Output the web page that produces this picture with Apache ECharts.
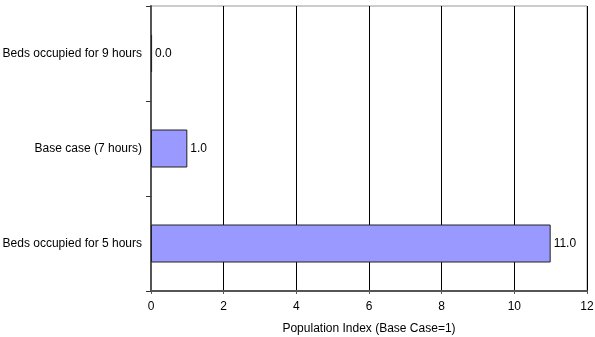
<!DOCTYPE html>
<html>
<head>
<meta charset="utf-8">
<script src="https://cdn.jsdelivr.net/npm/echarts@6/dist/echarts.min.js"></script>
<style>html,body{margin:0;padding:0;background:#fff;}#c{width:595px;height:337px;}</style>
</head>
<body>
<div id="c"></div>
<script>
var categories = ['Beds occupied for 5 hours', 'Base case (7 hours)', 'Beds occupied for 9 hours'];
var values = [11.0, 1.0, 0.03];
var xTicks = [0, 2, 4, 6, 8, 10, 12];
var xTitle = 'Population Index (Base Case=1)';

var chart = echarts.init(document.getElementById('c'), null, {renderer: 'canvas'});
var font = 'Liberation Sans, Arial, sans-serif';
chart.setOption({
  animation: false,
  grid: {left: 151, right: 8, top: 6, bottom: 46, outerBoundsMode: 'none', containLabel: false,
    show: true, borderColor: '#999', borderWidth: 1, backgroundColor: 'transparent'},
  xAxis: {
    type: 'value', min: xTicks[0], max: xTicks[xTicks.length - 1], interval: 2,
    name: xTitle, nameLocation: 'middle', nameGap: 32,
    nameTextStyle: {fontFamily: font, fontSize: 12, color: '#000'},
    axisLine: {show: true, lineStyle: {color: '#555', width: 2}},
    axisTick: {show: true, length: 3, lineStyle: {color: '#555', width: 1}},
    axisLabel: {fontFamily: font, fontSize: 12, color: '#000', margin: 10},
    splitLine: {show: true, lineStyle: {color: '#000', width: 1}}
  },
  yAxis: {
    type: 'category', data: categories,
    axisLine: {show: true, lineStyle: {color: '#555', width: 2}},
    axisTick: {show: true, length: 5, lineStyle: {color: '#333', width: 1}},
    axisLabel: {fontFamily: font, fontSize: 12, color: '#000', margin: 9},
    splitLine: {show: false}
  },
  series: [{
    type: 'bar', data: values, barCategoryGap: '60%',
    itemStyle: {color: '#9999FF', borderColor: '#222', borderWidth: 1},
    label: {show: true, position: 'right', distance: 3, fontFamily: font, fontSize: 12, color: '#000',
      formatter: function (p) { return p.value.toFixed(1); }}
  }]
});
</script>
</body>
</html>
